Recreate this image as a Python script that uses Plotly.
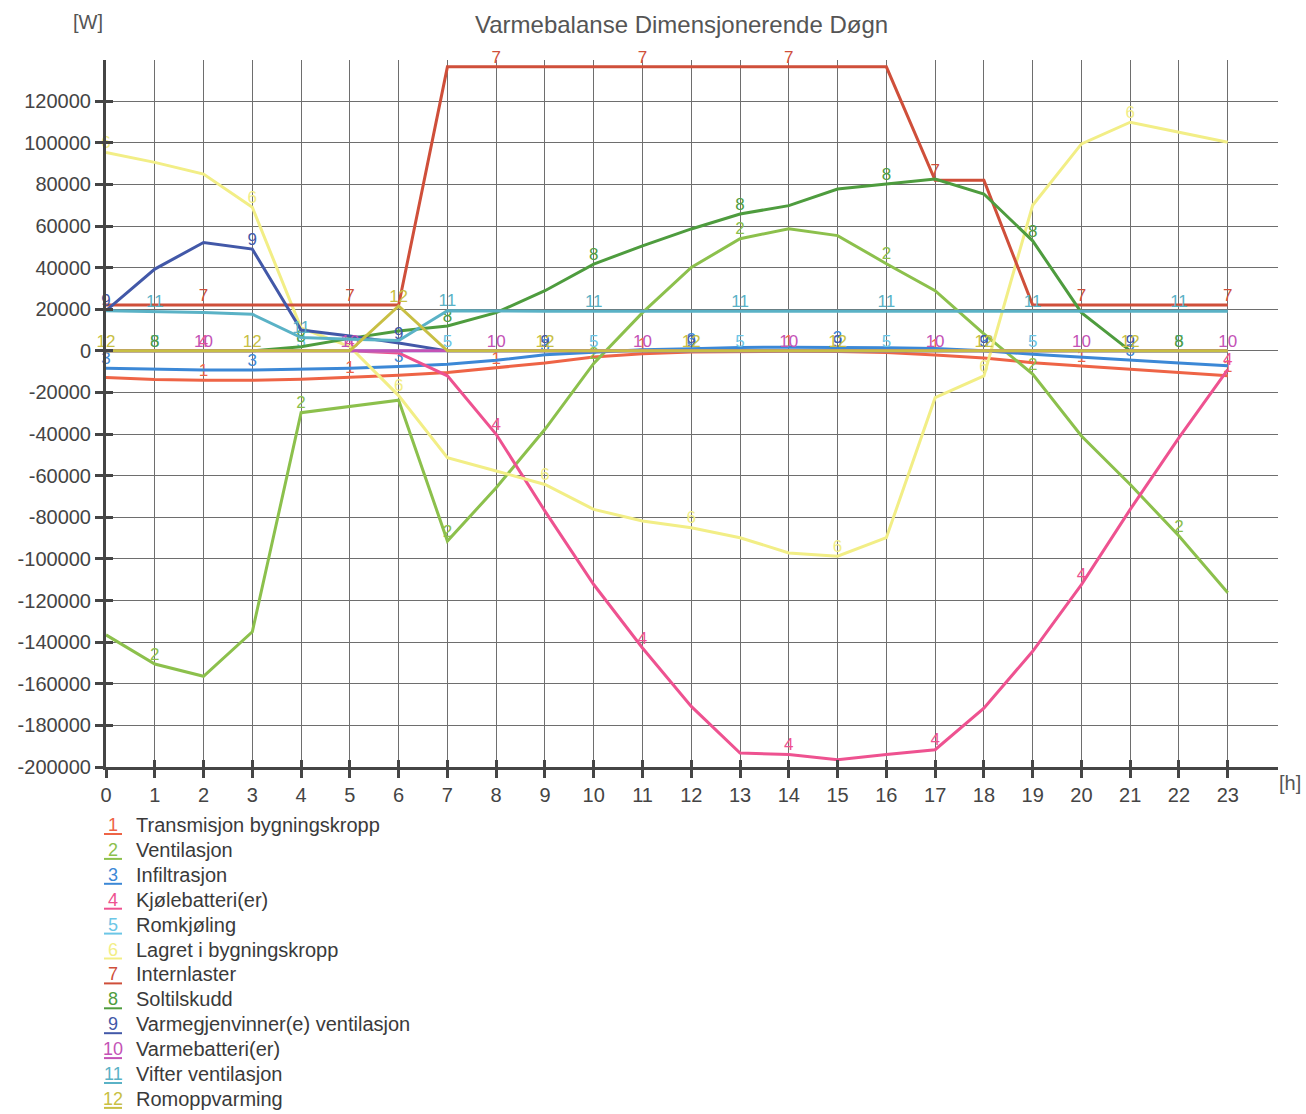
import plotly.graph_objects as go

# Hourly heat balance for the design day (W)
hours = list(range(24))

transmisjon = [-12800, -13800, -14100, -14100, -13600, -12800, -11700, -10400, -8200, -5800, -2900, -1400,
               -500, -300, -200, -300, -800, -2000, -3400, -5700, -7200, -8700, -10500, -12000]
ventilasjon = [-136500, -150500, -156400, -135000, -29700, -26800, -23700, -91400, -65800, -37700, -6000, 18400,
               40100, 53900, 58700, 55400, 41900, 28900, 8200, -11100, -40900, -64200, -89000, -116300]
infiltrasjon = [-8300, -8800, -9200, -9200, -8800, -8300, -7500, -6400, -4500, -1900, -700, 500,
                1000, 1600, 1800, 1800, 1500, 1100, 0, -1600, -2900, -4500, -5800, -7200]
kjolebatteri = [0, 0, 0, 0, 0, 0, -1000, -12000, -40100, -77000, -112300, -142800,
                -170900, -193300, -194000, -196500, -194000, -191700, -171700, -144400, -112300, -76200, -41700, -9000]
romkjoling = [0] * 24
lagret = [95400, 90600, 85000, 69000, 11000, 2000, -21500, -51300, -57700, -64200, -76200, -81800,
          -85000, -89800, -97100, -98700, -89800, -22500, -12000, 70000, 99500, 109900, 105100, 100300]
internlaster = [22000, 22000, 22000, 22000, 22000, 22000, 22000, 136500, 136500, 136500, 136500, 136500,
                136500, 136500, 136500, 136500, 136500, 82000, 82000, 22000, 22000, 22000, 22000, 22000]
soltilskudd = [0, 0, 0, 0, 2000, 6000, 9500, 12000, 18400, 28900, 41700, 50500,
               58600, 65800, 69800, 77800, 80200, 82600, 75400, 52900, 18400, 0, 0, 0]
varmegjenvinner = [19300, 39300, 52100, 48900, 10000, 7200, 3800, 0, 0, 0, 0, 0,
                   0, 0, 0, 0, 0, 0, 0, 0, 0, 0, 0, 0]
varmebatteri = [0] * 24
vifter = [19300, 18900, 18400, 17600, 6400, 5600, 5000, 19300, 19000, 19000, 19000, 19000,
          19000, 19000, 19000, 19000, 19000, 19000, 19000, 19000, 19000, 19000, 19000, 19000]
romoppvarming = [0, 0, 0, 0, 0, 0, 21600, 0, 0, 0, 0, 0,
                 0, 0, 0, 0, 0, 0, 0, 0, 0, 0, 0, 0]

series_names = ["Transmisjon bygningskropp", "Ventilasjon", "Infiltrasjon", "Kjølebatteri(er)",
                "Romkjøling", "Lagret i bygningskropp", "Internlaster", "Soltilskudd",
                "Varmegjenvinner(e) ventilasjon", "Varmebatteri(er)", "Vifter ventilasjon",
                "Romoppvarming"]
series_values = [transmisjon, ventilasjon, infiltrasjon, kjolebatteri, romkjoling, lagret,
                 internlaster, soltilskudd, varmegjenvinner, varmebatteri, vifter, romoppvarming]
series_colors = ["#ee6446", "#8cc04c", "#3c88d6", "#ee5290", "#6cc6e6", "#f2ee86",
                 "#cf4f3a", "#4e9c3e", "#4258a8", "#c452b6", "#5ab2c6", "#c8bf44"]

y_ticks = list(range(-200000, 120001, 20000))

W, H = 1306, 1114
L, R, T, B = 106, 1278, 60, 767


def px_x(px):
    return (px - L) / (R - L)


def px_y(py):
    return (B - py) / (B - T)


fig = go.Figure()

for k, (name, vals, col) in enumerate(zip(series_names, series_values, series_colors), start=1):
    labels = [str(k) if (h + k) % 3 == 0 else "" for h in hours]
    fig.add_trace(go.Scatter(
        x=hours, y=vals, name=name, mode="lines+text",
        line=dict(color=col, width=3),
        text=labels, textposition="top center",
        textfont=dict(color=col, size=17, family="Liberation Sans"),
        cliponaxis=False,
        hoverinfo="x+y+name", showlegend=False,
    ))

# helper trace carrying the inner halves of the crossing tick marks
fig.add_trace(go.Scatter(x=[None], y=[None], xaxis="x2", yaxis="y2",
                         showlegend=False, hoverinfo="skip"))

axis_col = "#454545"
grid_col = "#6e6e6e"
x_range = [0, 24.03]
y_range = [-200000, 139800]

fig.update_layout(
    width=W, height=H,
    margin=dict(l=L, r=W - R, t=T, b=H - B),
    paper_bgcolor="white", plot_bgcolor="white",
    font=dict(family="Liberation Sans", color="#444"),
    xaxis=dict(range=x_range, tickvals=hours, ticktext=[str(h) for h in hours],
               showgrid=True, gridcolor=grid_col, gridwidth=1, zeroline=False,
               showline=True, linecolor=axis_col, linewidth=3,
               ticks="outside", ticklen=8, tickwidth=3, tickcolor=axis_col,
               tickfont=dict(size=20, color="#444")),
    yaxis=dict(range=y_range, tickvals=y_ticks, ticktext=[str(v) for v in y_ticks],
               showgrid=True, gridcolor=grid_col, gridwidth=1, zeroline=False,
               showline=True, linecolor=axis_col, linewidth=3,
               ticks="outside", ticklen=8, tickwidth=3, tickcolor=axis_col,
               tickfont=dict(size=20, color="#444")),
    xaxis2=dict(range=x_range, tickvals=hours, overlaying="x", anchor="y2",
                showgrid=False, zeroline=False, showline=False, showticklabels=False,
                ticks="inside", ticklen=7, tickwidth=3, tickcolor=axis_col),
    yaxis2=dict(range=y_range, tickvals=y_ticks, overlaying="y", anchor="x2",
                showgrid=False, zeroline=False, showline=False, showticklabels=False,
                ticks="inside", ticklen=7, tickwidth=3, tickcolor=axis_col),
    showlegend=False,
)

annotations = [
    dict(text="Varmebalanse Dimensjonerende Døgn", x=px_x(681), y=px_y(25), xref="paper", yref="paper",
         showarrow=False, font=dict(size=24, color="#555"), xanchor="center", yanchor="middle"),
    dict(text="[W]", x=px_x(88), y=px_y(22), xref="paper", yref="paper",
         showarrow=False, font=dict(size=20, color="#555"), xanchor="center", yanchor="middle"),
    dict(text="[h]", x=px_x(1290), y=px_y(783), xref="paper", yref="paper",
         showarrow=False, font=dict(size=20, color="#555"), xanchor="center", yanchor="middle"),
]

shapes = []
row0, row_step = 825, 24.9
for k, (name, col) in enumerate(zip(series_names, series_colors), start=1):
    yc = row0 + (k - 1) * row_step
    annotations.append(dict(text=str(k), x=px_x(113), y=px_y(yc), xref="paper", yref="paper",
                            showarrow=False, font=dict(size=18, color=col),
                            xanchor="center", yanchor="middle"))
    annotations.append(dict(text=name, x=px_x(134), y=px_y(yc), xref="paper", yref="paper",
                            showarrow=False, font=dict(size=20, color="#3a3a3a"),
                            xanchor="left", yanchor="middle"))
    shapes.append(dict(type="line", xref="paper", yref="paper",
                       x0=px_x(104), x1=px_x(122), y0=px_y(yc + 9), y1=px_y(yc + 9),
                       line=dict(color=col, width=2)))

fig.update_layout(annotations=annotations, shapes=shapes)

fig.write_html("out.html")
